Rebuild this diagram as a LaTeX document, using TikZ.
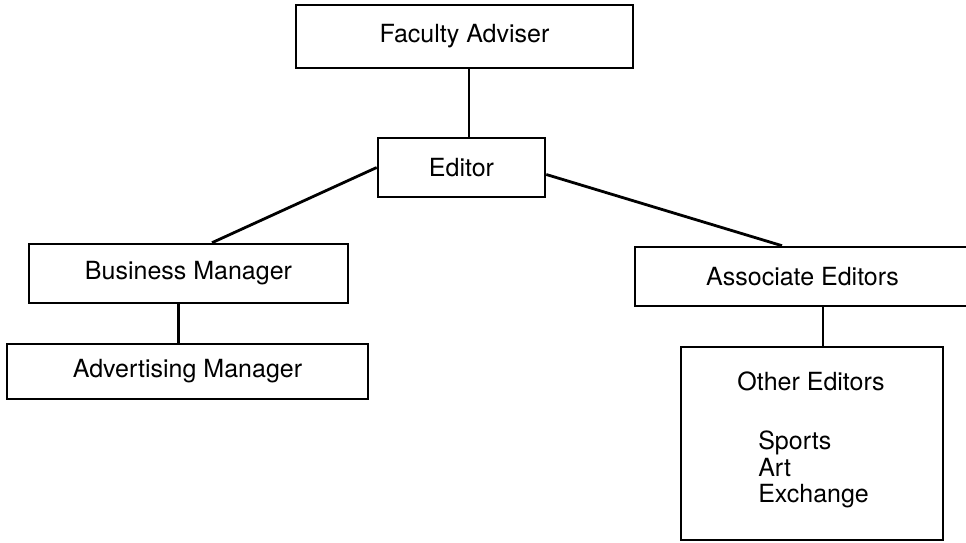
\documentclass[tikz,border=0pt]{standalone}
\usepackage{fontspec}
\setsansfont{TeX Gyre Heros}
\usepackage{tikz}
\usetikzlibrary{positioning,calc}
\definecolor{ink}{HTML}{000000}
\tikzset{
  every picture/.style={line width=2.6pt,draw=ink,font=\sffamily\fontsize{25}{30}\selectfont},
  bx/.style={draw=ink,fill=white,inner sep=0pt,align=center},
  link/.style={draw=ink,line width=2.8pt},
  txt/.style={inner sep=0pt,text=ink},
}
\begin{document}
\begin{tikzpicture}[x=1pt,y=-1pt]
  \useasboundingbox (0,0) rectangle (966,542);
  % top
  \node[bx,minimum width=337pt,minimum height=63pt] (fa) at (464.5,36.5) {Faculty Adviser};
  \node[bx,minimum width=167pt,minimum height=59pt] (ed) at (461.5,167.5) {Editor};
  % left branch
  \node[bx,minimum width=319pt,minimum height=59pt] (bm) at (188.5,273.5) {Business Manager};
  \node[bx,minimum width=361pt,minimum height=55pt] (am) at (187.5,371.5) {Advertising Manager};
  % right branch
  \node[bx,minimum width=335pt,minimum height=59pt] (ae) at (802.5,276.5) {Associate Editors};
  \node[bx,minimum width=262pt,minimum height=193pt] (oe) at (812,443.5) {};
  \node[txt] (oet) at (811,381) {Other Editors};
  \node[txt,align=left,anchor=north west,font=\sffamily\fontsize{25}{26.5}\selectfont] (oel) at (757,430) {Sports\\Art\\Exchange};
  % lines
  \draw[link] ([xshift=4.5pt]fa.south) -- ([xshift=4.5pt]fa.south |- ed.north);
  \draw[link] (ed.west) -- ([xshift=23.5pt]bm.north);
  \draw[link] ([yshift=-7pt]ed.east) -- ([xshift=-20.5pt]ae.north);
  \draw[link] ([xshift=-10pt]bm.south) -- ([xshift=-10pt]bm.south |- am.north);
  \draw[link] ([xshift=11pt]oe.north) -- ([xshift=11pt]oe.north |- ae.south);
\end{tikzpicture}
\end{document}
